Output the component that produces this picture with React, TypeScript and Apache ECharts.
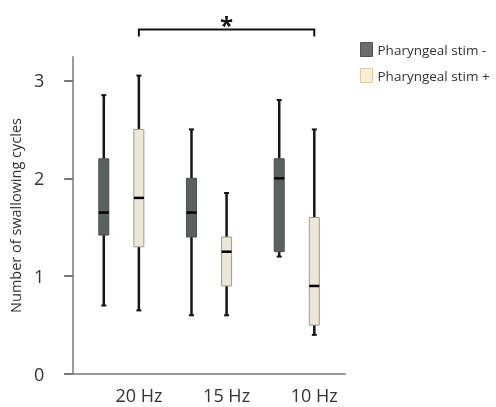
import React, { useEffect, useRef } from "react";
import * as echarts from "echarts";

const categories = ["20 Hz", "15 Hz", "10 Hz"];
const yTicks = [0, 1, 2, 3];
// [min, Q1, median, Q3, max]
const stimMinus = [
  [0.7, 1.42, 1.65, 2.2, 2.85],
  [0.6, 1.4, 1.65, 2.0, 2.5],
  [1.2, 1.25, 2.0, 2.2, 2.8],
];
const stimPlus = [
  [0.65, 1.3, 1.8, 2.5, 3.05],
  [0.6, 0.9, 1.25, 1.4, 1.85],
  [0.4, 0.5, 0.9, 1.6, 2.5],
];
const seriesNames = ["Pharyngeal stim -", "Pharyngeal stim +"];
// significance bracket between 20 Hz (+) and 10 Hz (+)
const bracket = { from: 0, to: 2, level: 3.52, tickLevel: 3.45, label: "*" };

export default function App() {
  const ref = useRef<HTMLDivElement>(null);
  useEffect(() => {
    if (!ref.current) return;
    const chart = echarts.init(ref.current, null, { renderer: "svg" });
    const OFFSET = 0.2; // fraction of category unit
    const BOX_W = 10;
    const CAP_W = 5;

    const makeRender = (offset: number, fill: string, stroke: string) =>
      (params: any, api: any) => {
        const idx = api.value(0);
        const x = api.coord([idx + offset, 0])[0];
        const yMin = api.coord([idx, api.value(1)])[1];
        const yQ1 = api.coord([idx, api.value(2)])[1];
        const yMed = api.coord([idx, api.value(3)])[1];
        const yQ3 = api.coord([idx, api.value(4)])[1];
        const yMax = api.coord([idx, api.value(5)])[1];
        const lineStyle = { stroke: "#151515", lineWidth: 2.5 };
        return {
          type: "group",
          children: [
            { type: "line", shape: { x1: x, y1: yMax, x2: x, y2: yQ3 }, style: lineStyle },
            { type: "line", shape: { x1: x, y1: yQ1, x2: x, y2: yMin }, style: lineStyle },
            { type: "line", shape: { x1: x - CAP_W / 2, y1: yMax, x2: x + CAP_W / 2, y2: yMax }, style: { stroke: "#151515", lineWidth: 2 } },
            { type: "line", shape: { x1: x - CAP_W / 2, y1: yMin, x2: x + CAP_W / 2, y2: yMin }, style: { stroke: "#151515", lineWidth: 2 } },
            {
              type: "rect",
              shape: { x: x - BOX_W / 2, y: yQ3, width: BOX_W, height: yQ1 - yQ3 },
              style: { fill, stroke, lineWidth: 1 },
            },
            { type: "line", shape: { x1: x - BOX_W / 2, y1: yMed, x2: x + BOX_W / 2, y2: yMed }, style: { stroke: "#000", lineWidth: 2.5 } },
          ],
        };
      };

    const toData = (arr: number[][]) => arr.map((r, i) => [i, ...r]);

    chart.setOption({
      animation: false,
      grid: { left: 61, right: 151, top: 57, bottom: 33 },
      legend: {
        orient: "vertical",
        left: 355,
        top: 37,
        itemWidth: 12,
        itemHeight: 14,
        itemGap: 11,
        icon: "rect",
        data: [
          { name: seriesNames[0], itemStyle: { color: "#6c6c6c", borderColor: "#555", borderWidth: 1 } },
          { name: seriesNames[1], itemStyle: { color: "#fdf0d2", borderColor: "#dccb9e", borderWidth: 1 } },
        ],
        textStyle: { fontFamily: "Open Sans", fontSize: 13.5, color: "#333" },
      },
      xAxis: {
        type: "value",
        min: -0.64,
        max: 2.55,
        splitLine: { show: false },
        axisLine: { show: true, onZero: false, lineStyle: { color: "#9a9a9a", width: 2 } },
        axisTick: { show: false },
        axisLabel: {
          customValues: [0.2, 1.2, 2.2],
          formatter: (v: number) => categories[Math.round(v - 0.2)] ?? "",
          fontFamily: "Open Sans",
          fontSize: 18,
          color: "#333",
          margin: 12,
        },
      },
      yAxis: {
        type: "value",
        min: 0,
        max: 3.24,
        offset: -8,
        splitLine: { show: false },
        axisLine: { show: true, onZero: false, lineStyle: { color: "#9a9a9a", width: 2 } },
        axisTick: { show: true, length: 9, customValues: yTicks, lineStyle: { color: "#777", width: 2 } },
        axisLabel: {
          customValues: yTicks,
          fontFamily: "Open Sans",
          fontSize: 18,
          color: "#333",
          margin: 29,
        },
        name: "Number of swallowing cycles",
        nameLocation: "middle",
        nameGap: 44,
        nameTextStyle: { fontFamily: "Open Sans", fontSize: 14.5, color: "#333" },
      },
      series: [
        {
          name: seriesNames[0],
          type: "custom",
          clip: false,
          itemStyle: { color: "#6c6c6c", borderColor: "#555" },
          renderItem: makeRender(-OFFSET, "#5a625f", "#4a504d"),
          encode: { x: 0, y: [1, 2, 3, 4, 5] },
          data: toData(stimMinus),
        },
        {
          name: seriesNames[1],
          type: "custom",
          clip: false,
          itemStyle: { color: "#fdf0d2", borderColor: "#dccb9e" },
          renderItem: makeRender(OFFSET, "#ede8d5", "#9f9c88"),
          encode: { x: 0, y: [1, 2, 3, 4, 5] },
          data: toData(stimPlus),
        },
        {
          type: "custom",
          clip: false,
          silent: true,
          renderItem: (params: any, api: any) => {
            const x1 = api.coord([api.value(0) + OFFSET, 0])[0];
            const x2 = api.coord([api.value(1) + OFFSET, 0])[0];
            const yL = api.coord([0, api.value(2)])[1];
            const yT = api.coord([0, api.value(3)])[1];
            return {
              type: "group",
              children: [
                {
                  type: "polyline",
                  shape: { points: [[x1, yT], [x1, yL], [x2, yL], [x2, yT]] },
                  style: { stroke: "#111", lineWidth: 2, fill: "none" },
                },
                {
                  type: "text",
                  style: {
                    text: bracket.label,
                    x: (x1 + x2) / 2,
                    y: yL - 5,
                    align: "center",
                    verticalAlign: "middle",
                    fontSize: 24,
                    fontWeight: "bold",
                    fontFamily: "Open Sans",
                    fill: "#111",
                  },
                },
              ],
            };
          },
          data: [[bracket.from, bracket.to, bracket.level, bracket.tickLevel]],
        },
      ],
    });
    return () => chart.dispose();
  }, []);
  return (
    <div
      ref={ref}
      style={{ position: "fixed", left: 0, top: 0, width: 496, height: 407 }}
    />
  );
}
